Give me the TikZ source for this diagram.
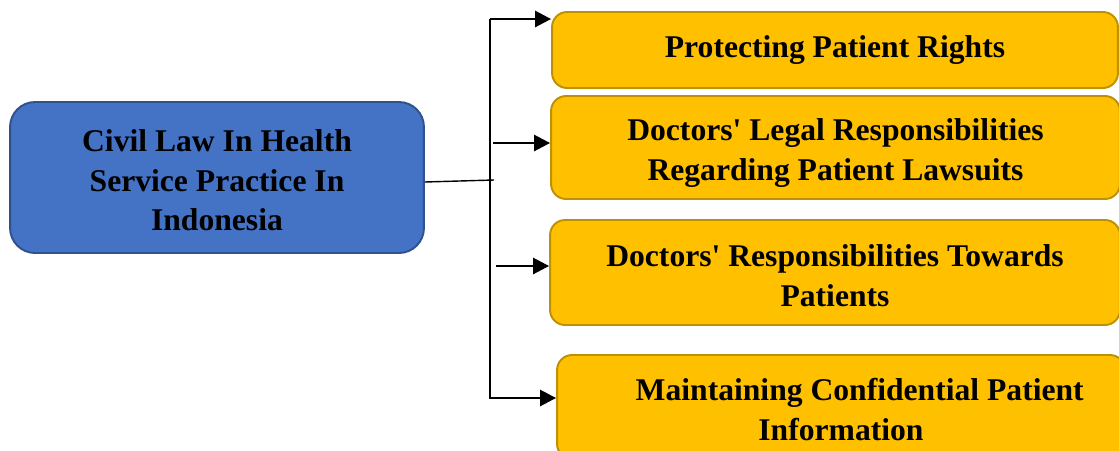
\documentclass[tikz,border=0pt]{standalone}
\usepackage{fontspec}
\setmainfont{Liberation Serif}
\usetikzlibrary{arrows.meta}
\definecolor{hubblue}{HTML}{4472C4}
\definecolor{hubedge}{HTML}{2F528F}
\definecolor{topicgold}{HTML}{FFC000}
\definecolor{topicedge}{HTML}{BF9000}
\newcommand{\padtop}[1]{\rule{0pt}{#1}}

\begin{document}
\begin{tikzpicture}[x=0.02cm,y=-0.02cm]
	\tikzstyle{every node}=[font=\bfseries\fontsize{18}{22.7}\selectfont, text=black, align=center]
	\tikzstyle{hub}=[draw=hubedge, fill=hubblue, line width=1.1pt, rounded corners=0.5cm, minimum width=8.28cm, minimum height=3.02cm]
	\tikzstyle{topic}=[draw=topicedge, fill=topicgold, line width=1.1pt, rounded corners=0.3cm, minimum width=11.38cm, minimum height=2.08cm]
	\tikzstyle{branch}=[line width=1.5pt, -{Triangle[length=0.32cm,width=0.32cm]}]
	
	\clip (0,0) rectangle (1119,450);
	
	\node [hub] (law) at (217,177.5) {\padtop{0.87em}Civil Law In Health\\Service Practice In\\Indonesia};
	
	\node [topic, minimum width=11.32cm, minimum height=1.52cm] (rights) at (835,50) {Protecting Patient Rights};
	\node [topic, minimum height=2.06cm] (legal) at (835.5,147.5) {\padtop{1.06em}Doctors\textquotesingle{} Legal Responsibilities\\Regarding Patient Lawsuits};
	\node [topic, minimum width=11.4cm, minimum height=2.1cm] (towards) at (835,272.5) {\padtop{0.87em}Doctors\textquotesingle{} Responsibilities Towards\\Patients};
	\node [topic, minimum width=11.36cm] (secret) at (841,407) {\padtop{0.87em}\hspace*{0.75cm}Maintaining Confidential Patient\\Information};
	
	% trunk
	\coordinate (trunktop) at (490,19);
	\coordinate (trunkbot) at (490,398);
	\coordinate (hubjoin) at (494,180);
	\draw [line width=0.8pt] (trunktop) -- (trunkbot);
	\draw [line width=0.8pt] ([yshift=-0.09cm]law.east) -- (hubjoin);
	
	\coordinate (j1) at (490,19);
	\coordinate (j2) at (493,143);
	\coordinate (j3) at (496,266);
	\coordinate (j4) at (489,398);
	\draw [branch] (j1) -- (j1 -| rights.west);
	\draw [branch] (j2) -- (j2 -| legal.west);
	\draw [branch] (j3) -- (j3 -| towards.west);
	\draw [branch] (j4) -- (j4 -| secret.west);
	
\end{tikzpicture}
\end{document}
